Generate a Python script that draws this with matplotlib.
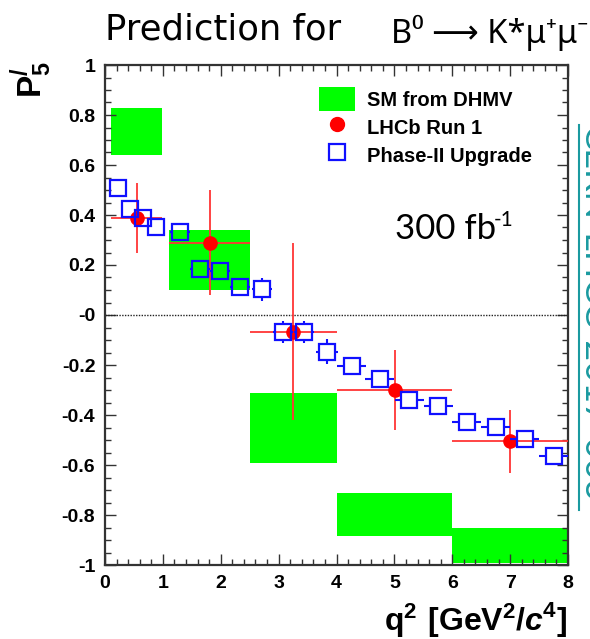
import matplotlib
matplotlib.use("Agg")
import matplotlib.pyplot as plt
from matplotlib.lines import Line2D
from matplotlib.patches import Patch
from matplotlib.ticker import MultipleLocator, FuncFormatter

# SM prediction boxes (DHMV)
sm_x0 = [0.1, 1.1, 2.5, 4.0, 6.0]
sm_x1 = [0.98, 2.5, 4.0, 6.0, 8.0]
sm_lo = [0.64, 0.10, -0.59, -0.885, -0.99]
sm_hi = [0.83, 0.34, -0.31, -0.71, -0.85]

# LHCb Run 1 measurements
run1_x = [0.56, 1.81, 3.25, 5.01, 7.00]
run1_xlo = [0.1, 1.1, 2.5, 4.0, 6.0]
run1_xhi = [0.98, 2.5, 4.0, 6.0, 8.0]
run1_y = [0.39, 0.29, -0.066, -0.30, -0.505]
run1_err = [0.14, 0.21, 0.355, 0.16, 0.125]

# Phase-II upgrade projection
up_x = [0.23, 0.44, 0.65, 0.88, 1.30, 1.64, 1.99, 2.33, 2.71, 3.07,
        3.44, 3.83, 4.26, 4.75, 5.26, 5.76, 6.25, 6.75, 7.25, 7.75]
up_y = [0.507, 0.424, 0.387, 0.353, 0.333, 0.184, 0.177, 0.113, 0.103, -0.067,
        -0.067, -0.147, -0.204, -0.257, -0.34, -0.364, -0.429, -0.449, -0.497, -0.564]
up_xerr = [0.1, 0.1, 0.1, 0.1, 0.17, 0.17, 0.17, 0.17, 0.17, 0.17,
           0.17, 0.19, 0.25, 0.25, 0.25, 0.25, 0.25, 0.25, 0.25, 0.25]
up_yerr = [0.03, 0.03, 0.03, 0.03, 0.03, 0.03, 0.03, 0.03, 0.045, 0.045,
           0.045, 0.05, 0.03, 0.03, 0.03, 0.03, 0.03, 0.03, 0.03, 0.03]

W, H = 590, 639
green = "#00ff00"
red = "#ff0000"
blue = "#1010ff"
teal = "#1a9aa0"

plt.rcParams["mathtext.fontset"] = "custom"
plt.rcParams["mathtext.rm"] = "Lato"
plt.rcParams["mathtext.bf"] = "Liberation Sans:bold"
plt.rcParams["mathtext.bfit"] = "Liberation Sans:italic:bold"

fig = plt.figure(figsize=(W / 100, H / 100), dpi=100)
ax = fig.add_axes([105 / W, 74 / H, 463 / W, 500 / H])

# SM boxes
for x0, x1, lo, hi in zip(sm_x0, sm_x1, sm_lo, sm_hi):
    ax.bar(x0, hi - lo, width=x1 - x0, bottom=lo, align="edge",
           color=green, linewidth=0, zorder=1)

ax.axhline(0, color="#222222", lw=1, ls=(0, (1, 1)), zorder=2)

# Run 1 points
xerr_lo = [x - lo for x, lo in zip(run1_x, run1_xlo)]
xerr_hi = [hi - x for x, hi in zip(run1_x, run1_xhi)]
ax.errorbar(run1_x, run1_y, xerr=[xerr_lo, xerr_hi], yerr=run1_err,
            fmt="o", color=red, ecolor="#ff3535", elinewidth=1.3,
            ms=9.5, capsize=0, zorder=3)

# Upgrade points: error bars drawn only outside the open square (ROOT style)
hw_x, hw_y = 0.15, 0.036
hy, hx0, hx1 = [], [], []
vx, vy0, vy1 = [], [], []
for x, y, ex, ey in zip(up_x, up_y, up_xerr, up_yerr):
    if ex > hw_x:
        hy += [y, y]
        hx0 += [x - ex, x + hw_x]
        hx1 += [x - hw_x, x + ex]
    if ey > hw_y:
        vx += [x, x]
        vy0 += [y - ey, y + hw_y]
        vy1 += [y - hw_y, y + ey]
ax.hlines(hy, hx0, hx1, color=blue, lw=1.5, zorder=4)
ax.vlines(vx, vy0, vy1, color=blue, lw=1.5, zorder=4)
ax.plot(up_x, up_y, ls="none", marker="s", mfc="none", mec=blue,
        mew=1.6, ms=11, zorder=5)

ax.set_xlim(0, 8)
ax.set_ylim(-1, 1)
ax.xaxis.set_major_locator(MultipleLocator(1))
ax.xaxis.set_minor_locator(MultipleLocator(0.2))
ax.yaxis.set_major_locator(MultipleLocator(0.2))
ax.yaxis.set_minor_locator(MultipleLocator(0.05))
ax.yaxis.set_major_formatter(FuncFormatter(
    lambda v, p: "-0" if abs(v) < 1e-9 else "%g" % round(v, 2)))
ax.tick_params(which="both", direction="in", top=True, right=True,
               colors="#333333", labelcolor="black")
ax.tick_params(which="major", length=8, width=1, pad=7)
ax.tick_params(which="minor", length=4, width=1)
for lab in ax.get_xticklabels() + ax.get_yticklabels():
    lab.set_fontfamily("Liberation Sans")
    lab.set_fontweight("bold")
    lab.set_fontsize(14)
for sp in ax.spines.values():
    sp.set_linewidth(1.6)
    sp.set_color("#333333")

# Legend
handles = [
    Patch(facecolor=green, edgecolor="none"),
    Line2D([0], [0], marker="o", ls="none", color=red, ms=10),
    Line2D([0], [0], marker="s", ls="none", mfc="none", mec=blue, mew=1.6, ms=11),
]
labels = ["SM from DHMV", "LHCb Run 1", "Phase-II Upgrade"]
ax.legend(handles, labels, loc="upper left",
          bbox_to_anchor=((319 - 105) / 463, 1 - (87 - 65) / 500),
          frameon=False, borderpad=0, borderaxespad=0,
          handlelength=1.8, handleheight=1.45, handletextpad=0.6,
          labelspacing=0.2,
          prop={"family": "Liberation Sans", "weight": "bold", "size": 14.5})

# Annotations
fig.text(395 / W, 1 - 239 / H, "300 fb", family="Lato",
         fontsize=25, ha="left", va="baseline")
fig.text(494 / W, 1 - 226 / H, "-1", family="Lato",
         fontsize=15, ha="left", va="baseline")

fig.text(105 / W, 1 - 39 / H, "Prediction for", family="DejaVu Sans",
         fontsize=25.5, ha="left", va="baseline")
fig.text(391 / W, 1 - 43 / H, "B⁰ ⟶ K*μ⁺μ⁻",
         family=["Noto Sans", "DejaVu Sans"], fontsize=23.5,
         ha="left", va="baseline")

fig.text(31 / W, 1 - 80 / H, r"$\mathbf{P}_{\mathbf{5}}^{\mathbf{/}}$",
         rotation=90, ha="center", va="center", fontsize=24)
fig.text(567 / W, 1 - 630 / H,
         r"$\mathbf{q^{2}\ [GeV^{2}/}\mathbfit{c}^{\mathbf{4}}\mathbf{]}$",
         ha="right", va="baseline", fontsize=23)

# side reference, cut by the page edge
fig.add_artist(Line2D([579 / W, 579 / W], [1 - 125 / H, 1 - 510 / H],
                      transform=fig.transFigure, color=teal, lw=1.5))
fig.text(583 / W, 1 - 125 / H, "CERN-LHCC-2017-003", rotation=-90,
         rotation_mode="anchor", ha="left", va="baseline", color=teal,
         family="Lato", fontsize=26)

fig.savefig("out.png", dpi=100)
